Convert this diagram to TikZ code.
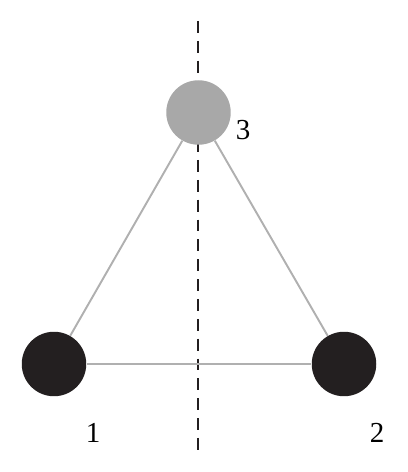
\documentclass[tikz,border=0pt]{standalone}
\usepackage{fontspec}
\setmainfont{Liberation Serif}
\definecolor{ballgray}{HTML}{A8A8A8}
\definecolor{linegray}{HTML}{B0B0B0}
\definecolor{ballblack}{HTML}{231F20}
\tikzset{
  ball/.style={circle, minimum size=1.29cm, inner sep=0pt},
  bond/.style={draw=linegray, line width=1.1pt},
  axis/.style={draw=ballblack, line width=1.1pt, dash pattern=on 6.8pt off 4.5pt},
  num/.style={font=\fontsize{16.5}{18}\selectfont}
}
\begin{document}
\begin{tikzpicture}[x=0.02cm,y=-0.02cm]
		\useasboundingbox (0,0) rectangle (407,472);
		\coordinate (top) at (198,21);
		\coordinate (bottom) at (198,450);
		\draw [axis] (top) -- (bottom);
		\node[ball, fill=ballblack](a) at (54,364) {};
		\node[ball, fill=ballblack](b) at (344,364) {};
		\node[ball, fill=ballgray](c) at (198.5,112.5) {};
		\node[num](la) at (93,433) {1};
		\node[num](lb) at (377,433) {2};
		\node[num](lc) at (243,130) {3};
		\draw [bond] (a) -- (b);
		\draw [bond] (a) -- (c);
		\draw [bond] (b) -- (c);
	\end{tikzpicture}
\end{document}
